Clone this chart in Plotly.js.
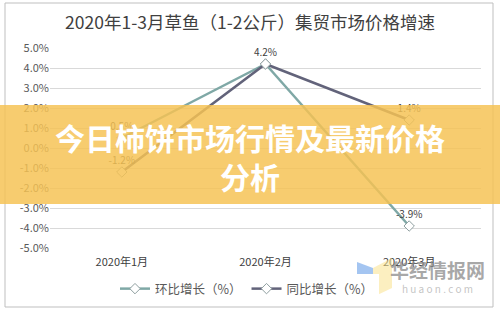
<!DOCTYPE html>
<html>
<head>
<meta charset="utf-8">
<script src="https://cdn.plot.ly/plotly-3.0.1.min.js"></script>
<style>
html,body{margin:0;padding:0;background:#fff;}
#chart{width:500px;height:311px;}
</style>
</head>
<body>
<div id="chart"></div>
<script>
const categories = ["2020年1月", "2020年2月", "2020年3月"];
const momValues = [0.5, 4.2, -3.9];   // 环比增长（%）
const yoyValues = [-1.2, 4.2, 1.4];   // 同比增长（%）
const seriesNames = ["环比增长（%）", "同比增长（%）"];
const yTicks = [-5, -4, -3, -2, -1, 0, 1, 2, 3, 4, 5];
const chartTitle = "2020年1-3月草鱼（1-2公斤）集贸市场价格增速";
const bannerText = "今日柿饼市场行情及最新价格<br>分析";

const FONT = '"Noto Sans CJK SC", "Microsoft YaHei", sans-serif';
const fmt = v => v.toFixed(1) + '%';

const traces = [
  {
    x: categories, y: momValues, name: seriesNames[0],
    type: 'scatter', mode: 'lines+markers+text',
    line: {color: '#7fa8a6', width: 2.5},
    marker: {symbol: 'diamond', size: 8, color: '#ffffff', line: {color: '#8f9fa0', width: 1}},
    text: momValues.map(fmt), textposition: 'top center',
    textfont: {size: 10, color: '#404040', family: FONT},
    cliponaxis: false
  },
  {
    x: categories, y: yoyValues, name: seriesNames[1],
    type: 'scatter', mode: 'lines+markers+text',
    line: {color: '#62637a', width: 2.5},
    marker: {symbol: 'diamond', size: 8, color: '#ffffff', line: {color: '#8f9fa0', width: 1}},
    // the Feb label coincides with the 环比 label, so it is shown once
    text: yoyValues.map((v, i) => (v === momValues[i] ? '' : fmt(v))), textposition: 'top center',
    textfont: {size: 10, color: '#404040', family: FONT},
    cliponaxis: false
  }
];

// pixel -> paper helpers (plot area: x 50..481, y 48..248)
const L = 50, R = 19, T = 48, B = 63, W = 500 - L - R, H = 311 - T - B;
const px = x => (x - L) / W;
const py = y => 1 - (y - T) / H;
const path = pts => 'M' + pts.map(p => px(p[0]).toFixed(4) + ',' + py(p[1]).toFixed(4)).join(' L') + ' Z';

const layout = {
  width: 500, height: 311,
  margin: {l: L, r: R, t: T, b: B, autoexpand: false},
  paper_bgcolor: '#ffffff', plot_bgcolor: '#ffffff',
  font: {family: FONT, color: '#595959', size: 11},
  title: {
    text: chartTitle, x: 0.5, xref: 'container', xanchor: 'center',
    y: 1 - 23 / 311, yref: 'container', yanchor: 'middle',
    font: {size: 17.5, color: '#404040', family: FONT}
  },
  xaxis: {
    type: 'category', range: [-0.5, 2.5], autorange: false,
    showgrid: false, zeroline: false, showline: false,
    ticks: '', tickfont: {size: 11, color: '#404040'}, ticklabelstandoff: 6
  },
  yaxis: {
    range: [-5, 5], autorange: false, tickvals: yTicks, ticktext: yTicks.map(fmt),
    showgrid: true, gridcolor: '#d9d9d9', gridwidth: 1, zeroline: false,
    showline: false, ticks: '', tickfont: {size: 11, color: '#595959'}
  },
  showlegend: true,
  legend: {
    orientation: 'h', x: px(247), xanchor: 'center', y: py(289), yanchor: 'middle',
    font: {size: 12.5, color: '#595959', family: FONT}
  },
  shapes: [
    {type: 'rect', xref: 'paper', yref: 'paper', x0: px(5), x1: px(493), y0: py(3), y1: py(307),
     line: {color: '#bfbfbf', width: 1}, fillcolor: 'rgba(0,0,0,0)', layer: 'below'},
    {type: 'path', xref: 'paper', yref: 'paper', path: path([[357,262],[373,268],[373,297],[357,291]]),
     fillcolor: 'rgba(90,150,230,0.55)', line: {width: 0}, layer: 'above'},
    {type: 'path', xref: 'paper', yref: 'paper', path: path([[373,268],[392,258],[392,288],[373,297]]),
     fillcolor: 'rgba(250,225,140,0.55)', line: {width: 0}, layer: 'above'},
    {type: 'rect', xref: 'paper', yref: 'paper', x0: px(0), x1: px(500), y0: py(105), y1: py(204),
     fillcolor: 'rgba(246,194,84,0.84)', line: {width: 0}, layer: 'above'}
  ],
  annotations: [
    {text: bannerText, xref: 'paper', yref: 'paper', x: px(250), y: py(156),
     xanchor: 'center', yanchor: 'middle', showarrow: false, align: 'center',
     font: {size: 30, color: '#ffffff', family: FONT, weight: 'bold'}},
    {text: '华经情报网', xref: 'paper', yref: 'paper', x: px(437), y: py(269),
     xanchor: 'center', yanchor: 'middle', showarrow: false,
     font: {size: 19, color: 'rgba(140,140,140,0.75)', family: FONT, weight: 'bold'}},
    {text: 'h u a o n . c o m', xref: 'paper', yref: 'paper', x: px(437), y: py(288),
     xanchor: 'center', yanchor: 'middle', showarrow: false,
     font: {size: 10, color: 'rgba(170,170,170,0.7)', family: FONT}}
  ]
};

Plotly.newPlot('chart', traces, layout, {displayModeBar: false, staticPlot: true});
</script>
</body>
</html>
